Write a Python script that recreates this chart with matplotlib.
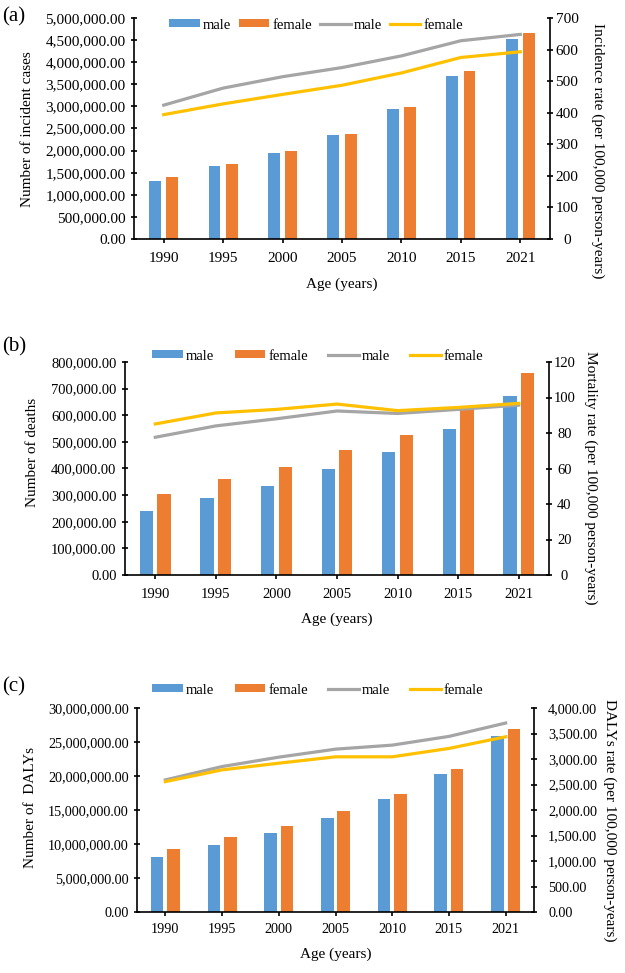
import numpy as np
import matplotlib
matplotlib.use("Agg")
from matplotlib import pyplot as plt
from matplotlib.ticker import FuncFormatter, MultipleLocator

plt.rcParams['font.family'] = ['Liberation Serif', 'DejaVu Serif']

years = ["1990", "1995", "2000", "2005", "2010", "2015", "2021"]

# (a) incident cases / incidence rate
cases_male = [1310000, 1660000, 1950000, 2350000, 2940000, 3690000, 4530000]
cases_female = [1410000, 1700000, 1980000, 2380000, 2990000, 3790000, 4650000]
inc_rate_male = [424, 478, 514, 543, 580, 628, 648]
inc_rate_female = [394, 428, 458, 487, 526, 575, 593]

# (b) deaths / mortality rate
deaths_male = [240000, 290000, 336000, 398000, 463000, 547000, 672000]
deaths_female = [306000, 361000, 406000, 470000, 526000, 632000, 760000]
mort_rate_male = [77.6, 84.0, 88.0, 92.4, 91.0, 93.3, 95.7]
mort_rate_female = [85.1, 91.3, 93.3, 96.3, 92.6, 94.4, 96.7]

# (c) DALYs / DALYs rate
dalys_male = [8020000, 9840000, 11560000, 13770000, 16580000, 20270000, 25920000]
dalys_female = [9200000, 11000000, 12640000, 14850000, 17310000, 21050000, 26900000]
dalys_rate_male = [2590, 2852, 3036, 3193, 3272, 3443, 3705]
dalys_rate_female = [2557, 2787, 2918, 3043, 3043, 3207, 3436]

c_blue = "#5B9BD5"
c_orange = "#ED7D31"
c_gray = "#A5A5A5"
c_yellow = "#FFC000"

W, H = 625, 973
fig = plt.figure(figsize=(W / 100, H / 100), dpi=100)

money = FuncFormatter(lambda v, p: "{:,.2f}".format(v))
plain = FuncFormatter(lambda v, p: "{:.0f}".format(v))


def panel(box, letter, letter_y, bars_m, bars_f, line_m, line_f,
          ymax, ystep, rmax, rstep, rfmt, r_ha, r_pad,
          ylabel, rlabel, ylab_pos, rlab_pos, leg_pos, leg_space,
          fs, leg_fs, bw, xpad):
    left, right, top, bottom = box
    ax = fig.add_axes([left / W, 1 - bottom / H, (right - left) / W, (bottom - top) / H])
    x = np.arange(len(years))
    ax.bar(x - 0.145, bars_m, bw, color=c_blue, label="male")
    ax.bar(x + 0.145, bars_f, bw, color=c_orange, label="female")
    ax.set_xlim(-0.5, len(years) - 0.5)
    ax.set_ylim(0, ymax)
    ax.yaxis.set_major_locator(MultipleLocator(ystep))
    ax.yaxis.set_major_formatter(money)
    ax.set_xticks(x)
    ax.set_xticklabels(years)

    ax2 = ax.twinx()
    ax2.plot(x, line_m, color=c_gray, lw=2.3, label="male")
    ax2.plot(x, line_f, color=c_yellow, lw=2.3, label="female")
    ax2.set_ylim(0, rmax)
    ax2.yaxis.set_major_locator(MultipleLocator(rstep))
    ax2.yaxis.set_major_formatter(rfmt)

    for a in (ax, ax2):
        a.spines["top"].set_visible(False)
        for s in a.spines.values():
            s.set_linewidth(1.2)
    ax.spines["right"].set_visible(False)
    ax2.spines["left"].set_visible(False)
    ax2.spines["bottom"].set_visible(False)

    ax.tick_params(axis="y", direction="inout", length=5, width=1.2, pad=3.6, labelsize=fs)
    ax.tick_params(axis="x", direction="out", length=3, width=1.2, pad=xpad, labelsize=fs)
    ax2.tick_params(axis="y", direction="inout", length=5, width=1.2, pad=r_pad, labelsize=fs)
    for t in ax2.get_yticklabels():
        t.set_horizontalalignment(r_ha)

    ax.set_ylabel(ylabel, fontsize=11)
    ax.yaxis.set_label_coords(*ylab_pos)
    ax2.set_ylabel(rlabel, fontsize=11, rotation=-90, va="center")
    ax2.yaxis.set_label_coords(*rlab_pos)
    ax.set_xlabel("Age (years)", fontsize=11)
    ax.xaxis.set_label_coords(0.5, -0.175)

    h1, l1 = ax.get_legend_handles_labels()
    h2, l2 = ax2.get_legend_handles_labels()
    ax2.legend(h1 + h2, l1 + l2, loc="center", bbox_to_anchor=leg_pos, ncol=4,
               frameon=False, fontsize=leg_fs, handlelength=2.1, handleheight=0.45,
               handletextpad=0.2, columnspacing=leg_space, borderpad=0.2)

    fig.text(2 / W, 1 - letter_y / H, letter, fontsize=15, ha="left", va="center")


panel((134, 550, 18, 239), "(a)", 17, cases_male, cases_female,
      inc_rate_male, inc_rate_female, 5000000, 500000, 700, 100, plain, "center", 9.7,
      "Number of incident cases", "Incidence rate (per 100,000 person-years)",
      (-0.24, 0.495), (1.115, 0.40), (0.4375, 0.968), 0.55, 11, 10.5, 0.2, 6.5)

panel((125, 549, 362, 575), "(b)", 347, deaths_male, deaths_female,
      mort_rate_male, mort_rate_female, 800000, 100000, 120, 20, plain, "center", 8.6,
      "Number of deaths", "Mortality rate (per 100,000 person-years)",
      (-0.203, 0.577), (1.099, 0.455), (0.455, 1.028), 1.4, 10.5, 10.5, 0.22, 6)

panel((137, 534, 708, 912), "(c)", 687, dalys_male, dalys_female,
      dalys_rate_male, dalys_rate_female, 30000000, 5000000, 4000, 500, money, "left", 7.6,
      "Number of  DALYs", "DALYs rate (per 100,000 person-years)",
      (-0.252, 0.51), (1.19, 0.45), (0.456, 1.088), 1.4, 10.2, 10.5, 0.22, 4.7)

fig.savefig("out.png", dpi=100)
